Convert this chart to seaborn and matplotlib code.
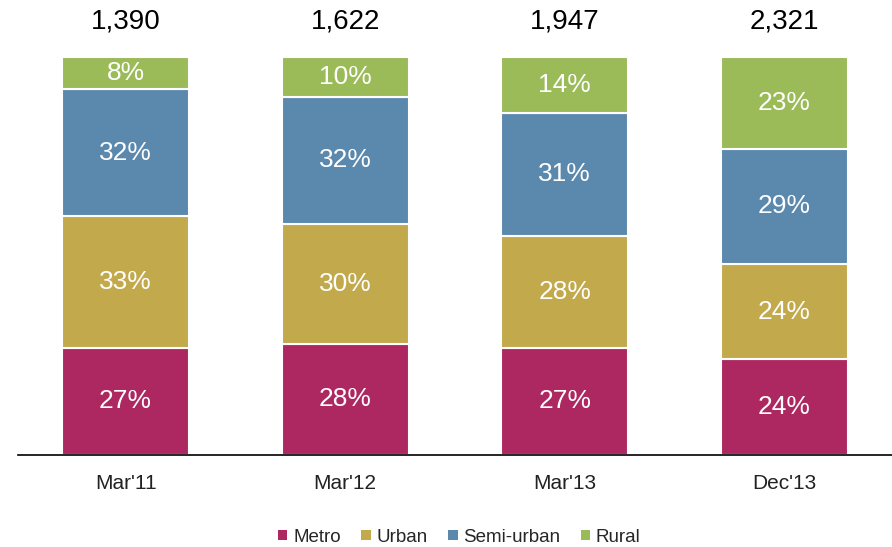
import matplotlib
matplotlib.use("Agg")
import matplotlib.pyplot as plt
import seaborn as sns
from matplotlib.patches import Patch

# data
periods = ["Mar'11", "Mar'12", "Mar'13", "Dec'13"]
totals = ["1,390", "1,622", "1,947", "2,321"]
segments = ["Metro", "Urban", "Semi-urban", "Rural"]
metro = [27, 28, 27, 24]
urban = [33, 30, 28, 24]
semi_urban = [32, 32, 31, 29]
rural = [8, 10, 14, 23]
colors = ["#AD2860", "#C1A94C", "#5B88AD", "#9BBB59"]

sns.set_style("white")
plt.rcParams["font.family"] = ["Liberation Sans", "DejaVu Sans"]

fig = plt.figure(figsize=(8.92, 5.47), dpi=100)
ax = fig.add_axes([0.0202, 0.1682, 0.9798, 0.8135])

bottom = [0, 0, 0, 0]
for name, vals, col in zip(segments, [metro, urban, semi_urban, rural], colors):
    sns.barplot(x=periods, y=vals, bottom=bottom, color=col, width=0.58,
                saturation=1, edgecolor="white", linewidth=1.5, ax=ax)
    for i, v in enumerate(vals):
        ax.text(i, bottom[i] + v / 2, f"{v}%", ha="center", va="center",
                color="white", fontsize=19)
    bottom = [b + v for b, v in zip(bottom, vals)]

for i, t in enumerate(totals):
    ax.text(i, 108.8, t, ha="center", va="center", fontsize=20, color="black")

ax.set_xlim(-0.49, 3.49)
ax.set_ylim(0, 111.8)
ax.set_yticks([])
ax.set_ylabel("")
for s in ["top", "left", "right"]:
    ax.spines[s].set_visible(False)
ax.spines["bottom"].set_color("black")
ax.spines["bottom"].set_linewidth(1.2)
ax.tick_params(axis="x", length=0, pad=14, labelsize=15, labelcolor="#222222")

handles = [Patch(facecolor=c, edgecolor="none") for c in colors]
fig.legend(handles, segments, loc="center", bbox_to_anchor=(0.515, 0.018),
           ncol=4, frameon=False, fontsize=13.5, handlelength=0.5,
           handleheight=0.5, handletextpad=0.3, columnspacing=1.1)

fig.savefig("out.png", dpi=100)
